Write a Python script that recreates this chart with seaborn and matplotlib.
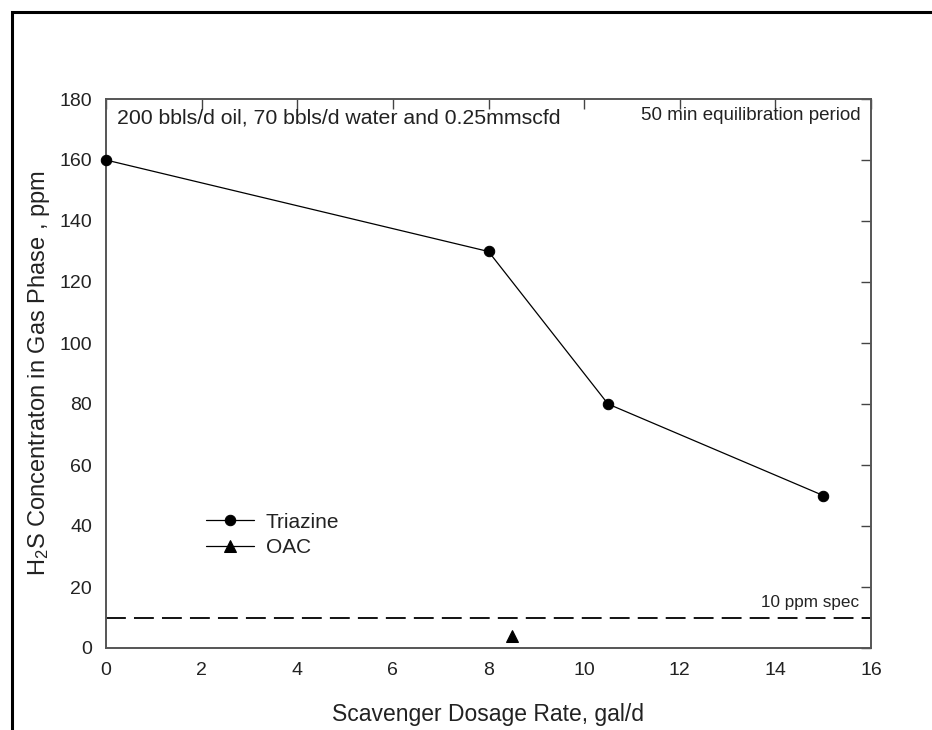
import matplotlib
matplotlib.use("Agg")
import matplotlib.pyplot as plt
import seaborn as sns
import pandas as pd
from matplotlib.patches import Rectangle

triazine_dose = [0, 8, 10.5, 15]
triazine_h2s = [160, 130, 80, 50]
oac_dose = [8.5]
oac_h2s = [4]
spec_level = 10
x_ticks = [0, 2, 4, 6, 8, 10, 12, 14, 16]
y_ticks = [0, 20, 40, 60, 80, 100, 120, 140, 160, 180]

sns.set_theme(style="white")
plt.rcParams['font.family'] = ['Liberation Sans', 'DejaVu Sans']
plt.rcParams['mathtext.fontset'] = 'custom'
plt.rcParams['mathtext.rm'] = 'Liberation Sans'
plt.rcParams['mathtext.it'] = 'Liberation Sans'

fig = plt.figure(figsize=(9.32, 7.3), dpi=100)
ax = fig.add_axes([106/932, 82/730, 765/932, 549/730])

df_t = pd.DataFrame({"dose": triazine_dose, "h2s": triazine_h2s})
df_o = pd.DataFrame({"dose": oac_dose, "h2s": oac_h2s})

sns.lineplot(data=df_t, x="dose", y="h2s", ax=ax, color="black", lw=0.9,
             marker="o", markersize=7.5, markeredgecolor="black", label="Triazine",
             clip_on=False, zorder=5)
sns.lineplot(data=df_o, x="dose", y="h2s", ax=ax, color="black", lw=0.9,
             marker="^", markersize=8.5, markeredgecolor="black", label="OAC",
             clip_on=False, zorder=5)

ax.axhline(spec_level, color="black", lw=1.3, dashes=(11, 4.5))

ax.set_xlim(0, 16)
ax.set_ylim(0, 180)
ax.set_xticks(x_ticks)
ax.set_yticks(y_ticks)
ax.tick_params(direction="in", length=7, width=1, color="#444444",
               top=True, right=True, labelsize=14, pad=10, labelcolor="#222222")
for s in ax.spines.values():
    s.set_color("#555555")
    s.set_linewidth(1.4)

ax.set_xlabel("Scavenger Dosage Rate, gal/d", fontsize=16.5, labelpad=17, color="#222222")
ax.set_ylabel("H$_2$S Concentraton in Gas Phase , ppm", fontsize=17, labelpad=5, color="#222222")

ax.text(0.014, 0.966, "200 bbls/d oil, 70 bbls/d water and 0.25mmscfd",
        transform=ax.transAxes, fontsize=15.3, ha="left", va="center", color="#222222")
ax.text(0.986, 0.970, "50 min equilibration period",
        transform=ax.transAxes, fontsize=13.5, ha="right", va="center", color="#222222")
ax.text(0.984, 0.082, "10 ppm spec",
        transform=ax.transAxes, fontsize=12.3, ha="right", va="center", color="#222222")

leg = ax.legend(loc="center left", bbox_to_anchor=(0.131, 0.206), frameon=False,
                fontsize=15, handlelength=2.3, handletextpad=0.55,
                labelspacing=0.3, borderpad=0, borderaxespad=0)
for t in leg.get_texts():
    t.set_color("#222222")

fig.patches.append(Rectangle((12/932, -0.1), 1.2, 1 - 12/730 + 0.1,
                             transform=fig.transFigure, fill=False,
                             edgecolor="black", lw=2.2, zorder=0))

fig.savefig("out.png", dpi=100)
